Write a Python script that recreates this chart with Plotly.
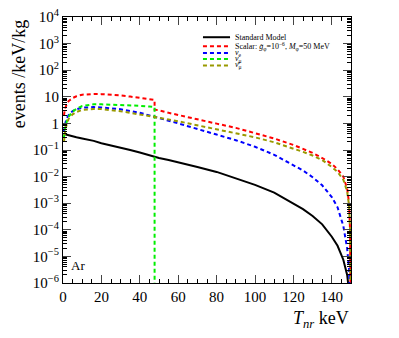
import plotly.graph_objects as go

# ---------------- data ----------------
x_common = [0.5, 1, 2, 3, 5, 7, 10, 13, 16, 20, 25, 30, 35, 40, 45, 47.7, 50, 55, 60, 70, 80,
            90, 100, 110, 120, 125, 130, 135, 140, 143, 146, 148, 149, 149.5, 149.8]

sm_vals = [0.40, 0.39, 0.37, 0.36, 0.33, 0.30, 0.27, 0.245, 0.22, 0.18, 0.15, 0.125, 0.10, 0.08,
           0.063, 0.055, 0.050, 0.042, 0.035, 0.023, 0.015, 0.0088, 0.0049, 0.0025, 0.0010,
           6.0e-4, 3.3e-4, 1.6e-4, 5.5e-5, 2.5e-5, 7.5e-6, 2.0e-6, 5.0e-7, 1.0e-7, 1.0e-8]

nue_vals = [0.5, 0.9, 1.6, 2.1, 2.9, 3.4, 3.9, 4.1, 4.1, 4.0, 3.7, 3.4, 2.9, 2.5, 2.0, 1.74, 1.58,
            1.26, 1.0, 0.60, 0.38, 0.234, 0.133, 0.066, 0.028, 0.017, 0.0095, 0.0047, 0.0017,
            7.0e-4, 1.4e-4, 2.0e-5, 3.2e-6, 1.0e-7, 1.0e-8]

numubar_vals = [0.2, 0.45, 1.0, 1.5, 2.2, 2.7, 3.2, 3.4, 3.5, 3.45, 3.2, 2.85, 2.5, 2.2, 1.9, 1.78,
                1.66, 1.41, 1.2, 0.85, 0.62, 0.44, 0.30, 0.195, 0.115, 0.085, 0.062, 0.042, 0.023,
                0.015, 0.0076, 0.0028, 8.0e-4, 1.0e-4, 1.0e-7]

x_numu = [0.5, 1, 2, 3, 5, 7, 10, 13, 16, 20, 25, 30, 35, 40, 45, 47.7, 47.71]
numu_vals = [0.3, 0.6, 1.2, 1.8, 2.8, 3.5, 4.5, 5.0, 5.2, 5.2, 5.1, 4.95, 4.8, 4.6, 4.3, 4.1, 1.0e-8]

x_scalar = [0.5, 1, 2, 3, 5, 7, 10, 13, 16, 20, 25, 30, 35, 40, 45, 47.7, 47.71, 50, 55, 60, 70,
            80, 90, 100, 110, 120, 125, 130, 135, 140, 143, 146, 148, 149, 149.5, 149.8]
scalar_vals = [2.0, 3.5, 5.5, 7.0, 9.0, 10.5, 12.0, 12.6, 12.8, 12.6, 12.0, 11.2, 10.2, 9.2, 8.2,
               7.6, 3.3, 3.1, 2.5, 2.1, 1.41, 0.98, 0.68, 0.44, 0.27, 0.155, 0.112, 0.078, 0.050,
               0.030, 0.019, 0.010, 0.0035, 1.0e-3, 1.0e-4, 1.0e-7]

y_tickvals = [1e-6, 1e-5, 1e-4, 1e-3, 1e-2, 1e-1, 1, 10, 1e2, 1e3, 1e4]
y_ticktext = ["10<sup>\u22126</sup>", "10<sup>\u22125</sup>", "10<sup>\u22124</sup>",
              "10<sup>\u22123</sup>", "10<sup>\u22122</sup>", "10<sup>\u22121</sup>", "1", "10",
              "10<sup>2</sup>", "10<sup>3</sup>", "10<sup>4</sup>"]

names = ["Standard Model",
         "Scalar: <i>g\u0303</i><sub>\u03c6</sub>=10<sup>\u22126</sup>, <i>M</i><sub>\u03c6</sub>=50 MeV",
         "<i>\u03bd</i><sub>e</sub>",
         "<i>\u03bd</i><sub>\u03bc</sub>",
         "<i>\u03bd\u0304</i><sub>\u03bc</sub>"]
colors = ["#000000", "#ff0000", "#0000ff", "#00ee00", "#999900"]
dashes = ["solid", "4px,3px", "4px,3px", "4px,3px", "4px,3px"]

series = [(x_common, sm_vals), (x_scalar, scalar_vals), (x_common, nue_vals),
          (x_numu, numu_vals), (x_common, numubar_vals)]

FONT = "Liberation Serif"

fig = go.Figure()
for (xs, ys), nm, c, d in zip(series, names, colors, dashes):
    fig.add_trace(go.Scatter(x=xs, y=ys, mode="lines", name=nm, showlegend=False,
                             line=dict(color=c, width=2, dash=d)))

# ---------------- manual compact legend (ROOT-style) ----------------
leg_x0, leg_x1, leg_tx = 0.486, 0.58, 0.59
leg_rows = [0.924, 0.89, 0.865, 0.842, 0.818]
shapes = []
annotations = []
for nm, c, d, yy in zip(names, colors, dashes, leg_rows):
    shapes.append(dict(type="line", xref="paper", yref="paper", x0=leg_x0, x1=leg_x1,
                       y0=yy, y1=yy, line=dict(color=c, width=2, dash=d)))
    annotations.append(dict(xref="paper", yref="paper", x=leg_tx, y=yy, text=nm,
                            showarrow=False, xanchor="left", yanchor="middle",
                            font=dict(family=FONT, size=8, color="black")))

annotations.append(dict(xref="x", yref="y", x=3, y=-5.35, text="Ar", showarrow=False,
                        xanchor="left", yanchor="middle",
                        font=dict(family=FONT, size=13, color="black")))
annotations.append(dict(xref="paper", yref="paper", x=-0.153, y=0.995,
                        text="events /keV/kg", textangle=-90, showarrow=False,
                        xanchor="center", yanchor="top",
                        font=dict(family=FONT, size=18, color="black")))
annotations.append(dict(xref="paper", yref="paper", x=1.0, y=-0.085,
                        text="<i>T</i><sub><i>nr</i></sub> keV", showarrow=False,
                        xanchor="right", yanchor="top",
                        font=dict(family=FONT, size=18, color="black")))

fig.update_layout(
    width=399, height=338,
    margin=dict(l=55, r=56, t=9, b=63, autoexpand=False),
    paper_bgcolor="white", plot_bgcolor="white",
    font=dict(family=FONT, size=15, color="black"),
    shapes=shapes, annotations=annotations,
    showlegend=False,
)
fig.update_xaxes(range=[0, 150], dtick=20, tick0=0, ticks="inside", ticklen=8,
                 showline=True, linecolor="black", linewidth=1, mirror="ticks",
                 showgrid=False, zeroline=False, automargin=False,
                 ticklabeloverflow="allow",
                 minor=dict(dtick=5, ticks="inside", ticklen=4, tickcolor="black"),
                 tickfont=dict(family=FONT, size=15))
fig.update_yaxes(type="log", range=[-6, 4], tickvals=y_tickvals, ticktext=y_ticktext,
                 ticks="inside", ticklen=8, showline=True, linecolor="black", linewidth=1,
                 mirror="ticks", showgrid=False, zeroline=False, automargin=False,
                 ticklabeloverflow="allow",
                 minor=dict(dtick="D1", ticks="inside", ticklen=4, tickcolor="black"),
                 tickfont=dict(family=FONT, size=15))

fig.write_html("out.html")
